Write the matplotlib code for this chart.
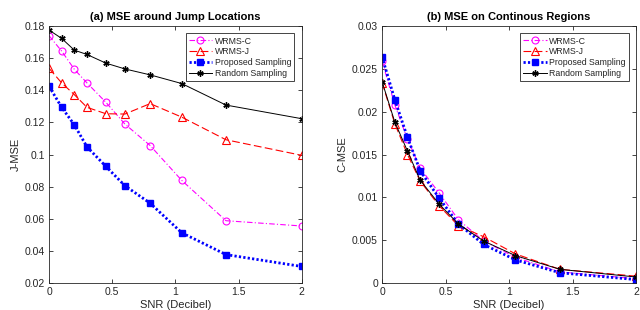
import matplotlib
matplotlib.use("Agg")
import matplotlib.pyplot as plt

plt.rcParams['font.family'] = ['Liberation Sans', 'DejaVu Sans']

snr = [0, 0.1, 0.2, 0.3, 0.45, 0.6, 0.8, 1.05, 1.4, 2]

j_wrms_c = [0.174, 0.1644, 0.1531, 0.1446, 0.1325, 0.119, 0.1056, 0.0839, 0.0588, 0.0555]
j_wrms_j = [0.1537, 0.1446, 0.1373, 0.1294, 0.1254, 0.1252, 0.1317, 0.1233, 0.1092, 0.0995]
j_prop = [0.1425, 0.1294, 0.1185, 0.1048, 0.0926, 0.0806, 0.0697, 0.0513, 0.0377, 0.0303]
j_rand = [0.1775, 0.1723, 0.165, 0.1623, 0.1569, 0.1533, 0.1496, 0.1442, 0.1308, 0.1223]

c_wrms_c = [0.0259, 0.0208, 0.0168, 0.0134, 0.0105, 0.0074, 0.0049, 0.0030, 0.0013, 0.0005]
c_wrms_j = [0.0234, 0.0186, 0.0150, 0.0119, 0.0090, 0.0067, 0.0054, 0.0034, 0.0016, 0.0008]
c_prop = [0.0264, 0.0214, 0.0170, 0.0131, 0.0099, 0.0069, 0.0045, 0.0027, 0.0012, 0.0004]
c_rand = [0.0235, 0.0188, 0.0154, 0.0120, 0.0092, 0.0069, 0.0049, 0.0032, 0.0016, 0.0007]

labels = ['WRMS-C', 'WRMS-J', 'Proposed Sampling', 'Random Sampling']
xticks = [0, 0.5, 1, 1.5, 2]
xticklabels = ['0', '0.5', '1', '1.5', '2']
j_yticks = [0.02, 0.04, 0.06, 0.08, 0.1, 0.12, 0.14, 0.16, 0.18]
j_yticklabels = ['0.02', '0.04', '0.06', '0.08', '0.1', '0.12', '0.14', '0.16', '0.18']
c_yticks = [0, 0.005, 0.01, 0.015, 0.02, 0.025, 0.03]
c_yticklabels = ['0', '0.005', '0.01', '0.015', '0.02', '0.025', '0.03']

fig = plt.figure(figsize=(6.4, 3.1), dpi=100)
ax1 = fig.add_axes([0.0766, 0.087, 0.395, 0.829])
ax2 = fig.add_axes([0.597, 0.087, 0.397, 0.829])

gray = '#262626'

def draw(ax, c, j, p, r):
    ax.plot(snr, c, color='#ff00ff', linestyle=(0, (5, 2, 1, 2)), linewidth=0.8, marker='o',
            markersize=5, markerfacecolor='none', markeredgewidth=0.8, label=labels[0])
    ax.plot(snr, j, color='#ff0000', linestyle=(0, (7, 3)), linewidth=0.8, marker='^',
            markersize=5.5, markerfacecolor='none', markeredgewidth=0.8, label=labels[1])
    ax.plot(snr, p, color='#0000ff', linestyle=(0, (0.8, 0.8)), linewidth=2.0, marker='s',
            markersize=4, markerfacecolor='#0000ff', markeredgecolor='#0000ff',
            markeredgewidth=1.0, label=labels[2])
    ax.plot(snr, r, color='#000000', linestyle='-', linewidth=0.7, marker=(6, 2, 0),
            markersize=4.5, markeredgewidth=1.0, label=labels[3])

def style(ax, yt, ytl, ylim, title, ylabel):
    ax.set_xlim(0, 2)
    ax.set_ylim(*ylim)
    ax.set_xticks(xticks)
    ax.set_xticklabels(xticklabels)
    ax.set_yticks(yt)
    ax.set_yticklabels(ytl)
    ax.tick_params(direction='in', top=True, right=True, length=3, width=0.6,
                   labelsize=7.5, colors=gray, labelcolor=gray, pad=3)
    for s in ax.spines.values():
        s.set_color(gray)
        s.set_linewidth(0.6)
    ax.set_title(title, fontsize=8, fontweight='bold', pad=4)
    ax.set_xlabel('SNR (Decibel)', fontsize=8, color=gray, labelpad=2)
    ax.set_ylabel(ylabel, fontsize=8, color=gray, labelpad=3)
    leg = ax.legend(loc='upper right', fontsize=6.3, frameon=True, fancybox=False,
                    edgecolor=gray, framealpha=1, borderpad=0.35, labelspacing=0.22,
                    handlelength=2.7, handletextpad=0.3, borderaxespad=0.85)
    leg.get_frame().set_linewidth(0.6)
    for t in leg.get_texts():
        t.set_color(gray)

draw(ax1, j_wrms_c, j_wrms_j, j_prop, j_rand)
style(ax1, j_yticks, j_yticklabels, (0.02, 0.18), '(a) MSE around Jump Locations', 'J-MSE')
draw(ax2, c_wrms_c, c_wrms_j, c_prop, c_rand)
style(ax2, c_yticks, c_yticklabels, (0, 0.03), '(b) MSE on Continous Regions', 'C-MSE')

fig.savefig('out.png', dpi=100)
